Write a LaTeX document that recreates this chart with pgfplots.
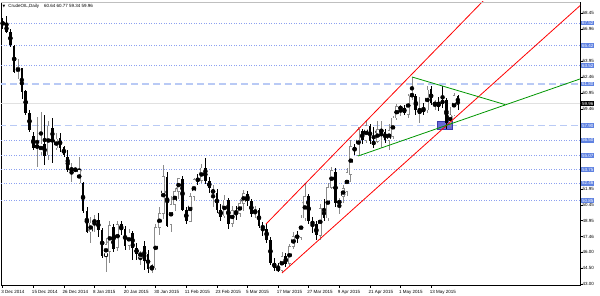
\documentclass[border=0pt]{standalone}
\usepackage{pgfplots}
\pgfplotsset{compat=1.18}
\usepackage{pgfplotstable}
\usepackage{fontspec}
\setmainfont{Liberation Sans}
\newfontfamily\dejavu{DejaVu Sans}
\definecolor{upc}{RGB}{140,140,140}
\definecolor{dotc}{RGB}{140,160,240}
\definecolor{dashc}{RGB}{185,202,245}
\definecolor{hlc}{RGB}{95,130,225}
\definecolor{boxc}{RGB}{105,105,215}
\definecolor{boxd}{RGB}{60,60,170}
\definecolor{grn}{RGB}{0,150,0}
\definecolor{curc}{RGB}{225,225,225}

\pgfplotstableread{
i o h l c
4 62.93 64.15 62.27 63.35
9 55.78 58.70 54.00 56.07
10 55.41 59.17 55.13 56.16
12 55.13 58.32 54.66 57.85
14 55.78 57.19 55.60 56.63
18 53.63 54.38 52.59 53.91
20 52.50 54.94 52.40 53.72
23 47.89 49.30 46.86 48.74
24 48.74 49.49 47.89 49.02
27 45.64 47.30 44.16 46.70
28 46.09 48.90 44.97 48.50
30 46.40 48.90 46.10 48.60
33 46.60 48.20 46.20 47.80
36 45.50 46.10 44.80 46.00
39 44.45 44.90 44.04 44.65
40 44.50 48.60 44.30 48.30
41 48.30 50.20 47.60 49.60
42 49.60 54.20 49.10 53.10
44 48.60 51.30 47.90 50.50
45 50.50 52.00 49.90 51.70
46 51.70 53.00 51.00 52.90
49 48.90 51.60 48.80 51.20
50 51.20 53.00 50.80 52.80
52 52.70 54.30 52.50 53.90
55 51.60 52.30 50.20 51.80
58 49.40 51.40 49.20 50.90
60 48.70 50.30 48.40 49.90
62 49.60 51.00 49.30 50.60
63 50.60 51.80 49.90 51.50
66 49.60 50.30 49.20 50.00
73 44.30 46.00 44.04 45.60
75 44.90 46.80 44.70 46.50
76 46.50 47.90 46.30 47.50
78 47.40 49.50 47.10 49.20
79 49.20 52.40 48.90 51.20
83 47.60 50.50 47.10 50.10
85 49.20 52.50 48.90 52.10
86 52.10 54.00 51.90 53.70
88 50.60 51.10 49.60 50.80
89 51.20 52.30 50.60 52.00
90 51.70 53.90 51.30 53.50
91 53.30 56.50 52.60 55.90
93 55.10 57.80 55.03 57.50
95 56.50 58.40 56.30 57.90
98 56.40 58.30 56.30 57.50
99 57.30 58.35 55.80 57.50
101 56.50 58.00 55.60 57.40
102 56.85 58.80 56.60 58.60
103 58.60 59.90 58.40 59.70
104 59.40 59.80 58.80 59.70
106 58.90 60.90 58.60 60.67
107 60.60 62.49 60.30 60.90
109 59.05 60.60 58.10 59.36
111 59.36 61.60 59.10 61.24
113 59.83 60.30 59.40 60.04
117 58.10 59.67 57.75 58.89
118 58.89 60.95 58.80 60.70
}\updata

\pgfplotstableread{
i o h l c
0 67.60 68.00 67.00 67.40
1 67.35 68.19 66.59 66.69
2 66.69 66.97 65.28 65.47
3 65.37 65.47 62.83 62.93
5 63.30 63.35 60.39 61.05
6 61.14 61.24 58.89 59.07
7 59.07 59.36 57.29 57.48
8 56.91 57.29 55.60 55.78
11 56.16 58.89 54.19 55.03
13 57.66 58.60 54.38 56.54
15 56.72 57.19 55.41 55.78
16 55.88 55.97 54.94 55.13
17 54.94 55.60 53.53 53.72
19 53.81 53.91 53.53 53.72
21 52.50 52.55 49.67 49.86
22 49.86 50.24 47.80 47.89
25 49.02 49.67 47.42 48.08
26 48.08 48.27 45.45 45.64
29 48.40 48.60 46.00 46.30
31 48.60 48.90 47.60 48.10
32 48.20 48.50 46.20 46.60
34 47.80 48.00 45.30 46.40
35 46.40 46.90 45.30 45.80
37 46.60 47.00 44.30 45.20
38 45.80 46.20 44.04 44.40
43 53.10 53.50 48.40 48.50
47 52.90 53.20 49.90 50.00
48 50.00 50.20 48.60 48.90
51 52.90 53.30 52.30 52.70
53 53.90 54.80 52.40 52.70
54 52.70 53.10 51.60 52.00
56 51.60 51.90 49.70 50.00
57 50.00 50.50 48.90 49.30
59 50.90 51.10 48.20 48.60
61 49.90 50.30 49.00 49.60
64 51.50 51.70 50.30 50.80
65 50.80 51.00 49.30 49.60
67 50.00 50.10 48.30 48.50
68 48.50 48.80 47.50 48.20
69 48.20 48.60 46.90 47.10
70 47.10 47.40 44.80 45.00
71 45.00 45.40 44.20 44.50
72 44.50 45.00 44.10 44.30
74 45.60 45.90 44.60 44.90
77 47.50 48.00 46.90 47.40
80 51.30 51.50 48.60 48.90
81 48.90 49.30 47.80 48.60
82 48.60 48.90 47.10 47.60
84 50.10 51.00 48.90 49.20
87 53.50 53.90 50.20 50.60
92 55.90 56.20 55.10 55.50
94 57.40 57.60 56.20 56.50
96 57.90 58.00 56.20 56.40
97 56.40 57.80 55.80 56.10
100 57.30 57.60 56.30 56.50
105 59.50 59.80 58.90 59.05
108 60.67 60.90 58.90 59.36
110 59.50 60.00 58.90 59.20
112 61.30 61.60 59.80 60.04
114 60.10 60.60 59.30 59.60
115 60.30 61.60 59.50 59.90
116 60.30 60.50 57.60 58.10
119 60.64 60.77 59.34 59.96
}\downdata

\newcommand{\tf}{\fontsize{4.5pt}{5pt}\selectfont}

\begin{document}
\begin{tikzpicture}[x=1pt,y=1pt]
\useasboundingbox (0,0) rectangle (600,295);
\begin{axis}[
  at={(1pt,10pt)}, anchor=south west,
  scale only axis, width=579pt, height=283pt,
  xmin=-0.444, xmax=150.93, ymin=42.909, ymax=69.507,
  clip mode=individual,
  axis line style={black, line width=0.6pt},
  xtick={0,8,16,24,32,40,48,56,64,72,80,88,96,104,112},
  xticklabels={3 Dec 2014,15 Dec 2014,26 Dec 2014,8 Jan 2015,20 Jan 2015,30 Jan 2015,11 Feb 2015,23 Feb 2015,5 Mar 2015,17 Mar 2015,27 Mar 2015,9 Apr 2015,21 Apr 2015,1 May 2015,13 May 2015},
  ytick={43.00,44.50,46.00,47.46,48.95,50.45,51.95,59.46,60.95,62.46,63.95,66.96,68.45},
  yticklabels={43.00,44.50,46.00,47.46,48.95,50.45,51.95,59.46,60.95,62.46,63.95,66.96,68.45},
  xtick pos=left, ytick pos=right, yticklabel pos=right,
  tick align=outside, major tick length=2.5pt,
  tick style={black, line width=0.5pt},
  xticklabel style={font=\tf, anchor=north west, inner sep=0pt, xshift=-1.5pt, yshift=-2.5pt},
  yticklabel style={font=\tf, anchor=west, inner sep=0pt, xshift=0pt},
]
% horizontal levels
\foreach \v in {67.52,65.42,63.52,56.50,55.07,53.75,52.46,50.85}{
  \edef\tmp{\noexpand\addplot[dotc, line width=0.6pt, dash pattern=on 0.6pt off 1.9pt] coordinates {(-1,\v) (152,\v)};}\tmp
}
\addplot[dashc, line width=1.3pt, dash pattern=on 7pt off 4pt] coordinates {(-1,61.80) (152,61.80)};
\addplot[dashc, line width=1.3pt, dash pattern=on 7pt off 4pt] coordinates {(-1,57.90) (152,57.90)};
\addplot[curc, line width=1.5pt] coordinates {(-1,59.96) (152,59.96)};
% blue box
\addplot[fill=boxc, draw=boxd, line width=0.6pt] coordinates {(113.7,57.57) (117.6,57.57) (117.6,58.32) (113.7,58.32)} -- cycle;
% down candles
\addplot[only marks, mark=none, error bars/.cd, y dir=both, y explicit, error mark=none,
  error bar style={draw=black, line width=0.6pt}]
  table[x=i, y expr={(\thisrow{h}+\thisrow{l})/2}, y error expr={(\thisrow{h}-\thisrow{l})/2}] {\downdata};
\addplot[only marks, mark=none, error bars/.cd, y dir=both, y explicit, error mark=none,
  error bar style={draw=black, line width=2.6pt}]
  table[x=i, y expr={(\thisrow{o}+\thisrow{c})/2}, y error expr={max((\thisrow{o}-\thisrow{c})/2,0.05)}] {\downdata};
% up candles
\addplot[only marks, mark=none, error bars/.cd, y dir=both, y explicit, error mark=none,
  error bar style={draw=upc, line width=0.6pt}]
  table[x=i, y expr={(\thisrow{h}+\thisrow{l})/2}, y error expr={(\thisrow{h}-\thisrow{l})/2}] {\updata};
\addplot[only marks, mark=none, error bars/.cd, y dir=both, y explicit, error mark=none,
  error bar style={draw=upc, line width=2.8pt}]
  table[x=i, y expr={(\thisrow{o}+\thisrow{c})/2}, y error expr={(\thisrow{c}-\thisrow{o})/2+0.04}] {\updata};
\addplot[only marks, mark=none, error bars/.cd, y dir=both, y explicit, error mark=none,
  error bar style={draw=white, line width=2.0pt}]
  table[x=i, y expr={(\thisrow{o}+\thisrow{c})/2}, y error expr={max((\thisrow{c}-\thisrow{o})/2-0.04,0)}] {\updata};
% trend lines
\addplot[red, line width=0.8pt] coordinates {(68.84,48.64) (125.83,69.69)};
\addplot[red, line width=0.8pt] coordinates {(73.02,44.04) (152.57,69.69)};
\addplot[grn, line width=0.8pt] coordinates {(107.0,62.46) (131.3,59.87)};
\addplot[grn, line width=0.8pt] coordinates {(92.9,55.03) (151.7,62.37)};
% top border
\draw[gray!50, line width=0.6pt] (rel axis cs:0,1) -- (rel axis cs:1,1);
% title
\node[anchor=west, inner sep=0pt, font=\tf] at (rel axis cs:0,1) [xshift=1.5pt, yshift=-4pt] {{\dejavu\fontsize{3.5pt}{4pt}\selectfont ▼}\hspace{3pt}CrudeOIL,Daily\hspace{5pt}60.64 60.77 59.34 59.96};
% price labels
\foreach \v in {67.52,65.42,63.52,61.80,57.90,56.50,55.07,53.75,52.46,50.85}{
  \edef\tmp{\noexpand\node[anchor=west, fill=hlc, text=white, inner xsep=1pt, inner ysep=0.7pt, font=\noexpand\tf] at (axis cs:150.93,\v) [xshift=0.8pt] {\v};}\tmp
}
\node[anchor=west, fill=black, text=white, inner xsep=1pt, inner ysep=0.7pt, font=\tf] at (axis cs:150.93,59.96) [xshift=0.8pt] {59.96};
\end{axis}
\end{tikzpicture}
\end{document}
